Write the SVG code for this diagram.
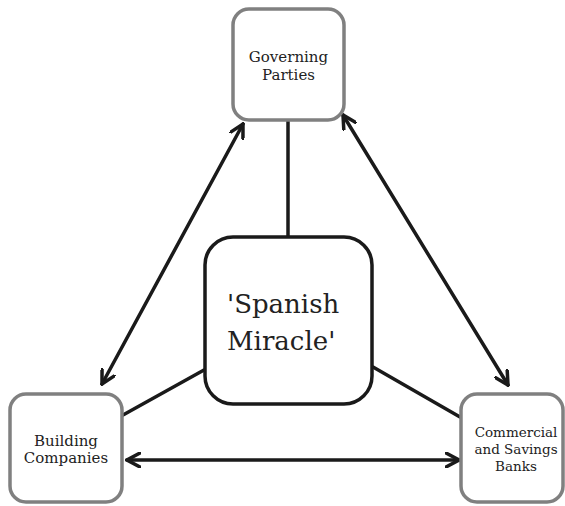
<svg xmlns="http://www.w3.org/2000/svg" width="565" height="506" viewBox="0 0 565 506">
<style>
.side{fill:#fff;stroke:#808080;stroke-width:3.5}
.core{fill:#fff;stroke:#1a1a1a;stroke-width:3.5}
.lbl{font-family:"DejaVu Serif","Liberation Serif",serif;font-size:15px;fill:#222;text-anchor:middle}
.big{font-family:"DejaVu Serif","Liberation Serif",serif;font-size:26px;fill:#222}
.ln{stroke:#1a1a1a;stroke-width:3.5;fill:none;stroke-linecap:round}
</style>
<defs>
<marker id="ah" viewBox="-14 -8 16 16" refX="0" refY="0" markerWidth="16" markerHeight="16" markerUnits="userSpaceOnUse" orient="auto-start-reverse">
<path d="M-13,-7 L0,0 L-13,7" fill="none" stroke="#1a1a1a" stroke-width="3.5" stroke-linecap="round" stroke-linejoin="miter"/>
</marker>
</defs>
<rect width="565" height="506" fill="#fff"/>
<g id="connectors">
<line class="ln" x1="288" y1="121" x2="288" y2="237"/>
<line class="ln" x1="204" y1="370" x2="123" y2="415"/>
<line class="ln" x1="373" y1="367" x2="460" y2="417"/>
<line class="ln" x1="243" y1="124" x2="102" y2="384" marker-start="url(#ah)" marker-end="url(#ah)"/>
<line class="ln" x1="343" y1="115" x2="508" y2="385" marker-start="url(#ah)" marker-end="url(#ah)"/>
<line class="ln" x1="127" y1="460" x2="459" y2="460" marker-start="url(#ah)" marker-end="url(#ah)"/>
</g>
<g id="governing-parties">
<rect class="side" x="233" y="9" width="111" height="111" rx="16"/>
<text class="lbl" x="288.5" y="62">Governing</text>
<text class="lbl" x="288.5" y="80">Parties</text>
</g>
<g id="spanish-miracle">
<rect class="core" x="205" y="237" width="167" height="167" rx="28"/>
<text class="big" x="227" y="313">'Spanish</text>
<text class="big" x="227" y="350">Miracle'</text>
</g>
<g id="building-companies">
<rect class="side" x="10" y="394" width="112" height="108" rx="16"/>
<text class="lbl" x="66" y="446">Building</text>
<text class="lbl" x="66" y="463">Companies</text>
</g>
<g id="banks">
<rect class="side" x="461" y="394" width="102" height="108" rx="16"/>
<text class="lbl" x="516" y="437" style="font-size:13.5px">Commercial</text>
<text class="lbl" x="516" y="454" style="font-size:13.5px">and Savings</text>
<text class="lbl" x="516" y="471" style="font-size:13.5px">Banks</text>
</g>
</svg>
